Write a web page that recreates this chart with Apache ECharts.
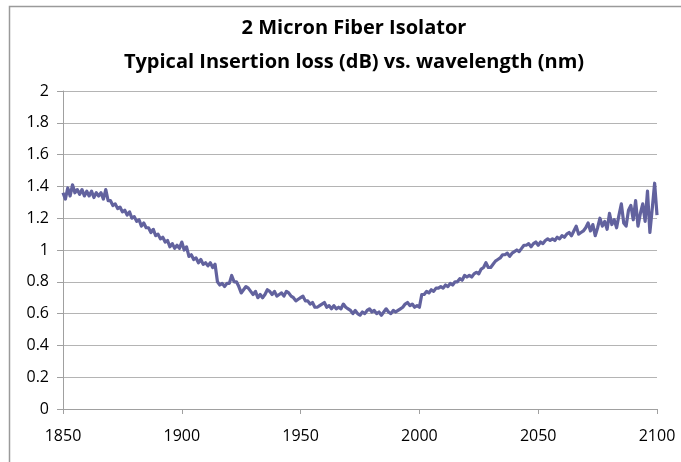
<!DOCTYPE html>
<html>
<head>
<meta charset="utf-8">
<script src="https://cdn.jsdelivr.net/npm/echarts@6/dist/echarts.min.js"></script>
<style>html,body{margin:0;padding:0;background:#fff;}#c{width:681px;height:462px;}</style>
</head>
<body>
<div id="c"></div>
<script>
var titleLines = ['2 Micron Fiber Isolator', 'Typical Insertion loss (dB) vs. wavelength (nm)'];
var xTicks = [1850, 1900, 1950, 2000, 2050, 2100];
var yTicks = [0, 0.2, 0.4, 0.6, 0.8, 1, 1.2, 1.4, 1.6, 1.8, 2];
var wavelengthStart = 1850;   // nm, first sample
var wavelengthStep = 1;       // nm between samples
var insertionLoss = [
  1.36,1.32,1.39,1.34,1.41,1.36,1.38,1.35,1.38,1.34,
  1.37,1.34,1.37,1.33,1.36,1.34,1.36,1.32,1.38,1.31,
  1.31,1.28,1.29,1.26,1.27,1.24,1.25,1.22,1.24,1.20,
  1.21,1.18,1.19,1.15,1.17,1.14,1.14,1.11,1.13,1.09,
  1.10,1.07,1.08,1.05,1.06,1.02,1.04,1.01,1.03,1.01,
  1.05,1.00,1.02,0.96,0.97,0.94,0.95,0.92,0.94,0.91,
  0.92,0.90,0.92,0.89,0.91,0.80,0.78,0.79,0.77,0.79,
  0.79,0.84,0.80,0.80,0.77,0.73,0.75,0.77,0.76,0.74,
  0.72,0.74,0.70,0.72,0.70,0.72,0.75,0.74,0.72,0.74,
  0.71,0.72,0.73,0.71,0.74,0.73,0.71,0.70,0.68,0.69,
  0.70,0.71,0.68,0.68,0.66,0.67,0.64,0.64,0.65,0.66,
  0.67,0.64,0.65,0.63,0.65,0.63,0.64,0.63,0.66,0.64,
  0.63,0.62,0.60,0.62,0.60,0.59,0.61,0.60,0.62,0.63,
  0.61,0.62,0.60,0.61,0.59,0.61,0.63,0.61,0.60,0.62,
  0.61,0.62,0.63,0.64,0.66,0.67,0.65,0.66,0.64,0.65,
  0.64,0.72,0.72,0.74,0.73,0.75,0.74,0.76,0.76,0.77,
  0.76,0.78,0.77,0.79,0.78,0.80,0.80,0.82,0.81,0.84,
  0.83,0.84,0.83,0.85,0.86,0.85,0.88,0.89,0.92,0.89,
  0.89,0.91,0.93,0.94,0.95,0.97,0.97,0.98,0.96,0.98,
  0.99,1.00,0.99,1.01,1.03,1.03,1.04,1.02,1.04,1.05,
  1.03,1.05,1.04,1.06,1.07,1.06,1.07,1.06,1.08,1.07,
  1.09,1.08,1.10,1.11,1.09,1.12,1.15,1.10,1.11,1.12,
  1.14,1.17,1.12,1.16,1.09,1.14,1.20,1.15,1.18,1.13,
  1.23,1.16,1.19,1.14,1.22,1.29,1.17,1.15,1.25,1.28,
  1.19,1.31,1.15,1.23,1.29,1.18,1.37,1.11,1.26,1.42,
  1.22
];

var seriesData = insertionLoss.map(function (v, i) {
  return [wavelengthStart + i * wavelengthStep, v];
});

var chart = echarts.init(document.getElementById('c'), null, {renderer: 'canvas'});
var font = '"Open Sans", "Liberation Sans", sans-serif';
chart.setOption({
  animation: false,
  backgroundColor: '#ffffff',
  title: {
    text: titleLines.join('\n'),
    left: 349, top: 6, textAlign: 'center',
    textStyle: {fontFamily: font, fontWeight: 'bold', fontSize: 20, lineHeight: 34, color: '#000'}
  },
  graphic: [{
    type: 'rect', silent: true, z: -1,
    shape: {x: 9.5, y: 6.5, width: 720, height: 520},
    style: {fill: 'none', stroke: '#9a9a9a', lineWidth: 1.5}
  }],
  grid: {left: 63, right: 24, top: 91, bottom: 53, containLabel: false},
  xAxis: {
    type: 'value', min: xTicks[0], max: xTicks[xTicks.length - 1], interval: 50,
    axisLine: {lineStyle: {color: '#a0a0a0', width: 1}},
    axisTick: {show: true, inside: false, length: 5, lineStyle: {color: '#a0a0a0'}},
    splitLine: {show: false},
    axisLabel: {fontFamily: font, fontSize: 16, color: '#000', margin: 19,
      formatter: function (v) { return String(v); }}
  },
  yAxis: {
    type: 'value', min: yTicks[0], max: yTicks[yTicks.length - 1], interval: 0.2,
    axisLine: {show: true, lineStyle: {color: '#a0a0a0', width: 1}},
    axisTick: {show: true, inside: false, length: 6, lineStyle: {color: '#a0a0a0'}},
    splitLine: {show: true, lineStyle: {color: '#b4b4b4', width: 1}},
    axisLabel: {fontFamily: font, fontSize: 16, color: '#000', margin: 14}
  },
  series: [{
    type: 'line', data: seriesData, showSymbol: false, symbol: 'none',
    lineStyle: {color: '#62629e', width: 3.2, join: 'round'},
    clip: false
  }]
});
</script>
</body>
</html>
